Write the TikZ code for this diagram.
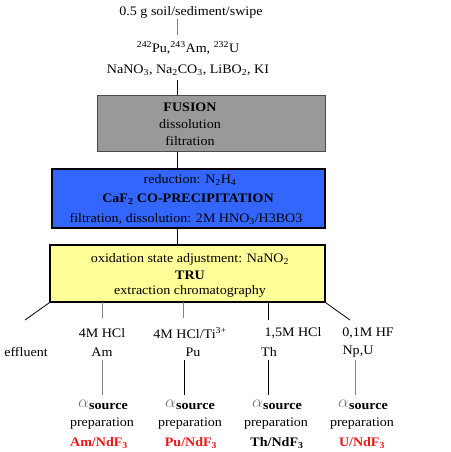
\documentclass[tikz,border=0pt]{standalone}
\usepackage{fontspec}
\setmainfont{Liberation Serif}[FakeStretch=1.08]
\definecolor{boxgray}{RGB}{153,153,153}
\definecolor{boxblue}{RGB}{51,102,255}
\definecolor{boxyellow}{RGB}{255,255,153}
\definecolor{lnred}{RGB}{240,20,20}
\begin{document}
\begin{tikzpicture}[x=1pt,y=-1pt,
  font=\fontsize{13}{15}\selectfont,
  txt/.style={inner sep=0pt},
  conn/.style={line width=0.8pt},
  gconn/.style={line width=0.8pt,draw=gray},
  stagebox/.style={draw=black,line width=1.6pt,inner sep=0pt},
  alab/.style={inner sep=0pt,font=\fontsize{13}{15}\selectfont\bfseries},
  rlab/.style={alab,text=lnred}]
\useasboundingbox (0,0) rectangle (450,452);
% boxes
\node[draw=black!70,line width=1pt,fill=boxgray,inner sep=0pt,minimum width=228pt,minimum height=56pt] (g) at (211,123) {};
\node[stagebox,fill=boxblue,minimum width=273pt,minimum height=59pt] (b) at (188.5,198.5) {};
\node[stagebox,fill=boxyellow,minimum width=275pt,minimum height=57pt] (y) at (187.5,273.5) {};
% top texts
\node[txt] (t0) at (191,12) {0.5 g soil/sediment/swipe};
\node[txt] (t1) at (188,48) {\textsuperscript{242}Pu,\textsuperscript{243}Am, \textsuperscript{232}U};
\node[txt] (t2) at (188,70) {NaNO\textsubscript{3}, Na\textsubscript{2}CO\textsubscript{3}, LiBO\textsubscript{2}, KI};
% box texts
\node[txt] (g1) at (190,107) {\textbf{FUSION}};
\node[txt] (g2) at (190,124) {dissolution};
\node[txt] (g3) at (190,141) {filtration};
\node[txt] (b1) at (190,180) {reduction: N\textsubscript{2}H\textsubscript{4}};
\node[txt] (b2) at (188,199) {\textbf{CaF\textsubscript{2} CO-PRECIPITATION}};
\node[txt] (b3) at (186,219) {filtration, dissolution: 2M HNO\textsubscript{3}/H3BO3};
\node[txt] (y1) at (190,259) {oxidation state adjustment: NaNO\textsubscript{2}};
\node[txt] (y2) at (190,275) {\textbf{TRU}};
\node[txt] (y3) at (190,291) {extraction chromatography};
% eluent labels
\node[txt] (a1) at (102,333) {4M HCl};
\node[txt] (p1) at (190,333) {4M HCl/Ti\textsuperscript{3+}};
\node[txt] (h1) at (293,333) {1,5M HCl};
\node[txt] (n1) at (368,333) {0,1M HF};
\node[txt] (e)  at (26,352) {effluent};
\node[txt] (a2) at (102,352) {Am};
\node[txt] (p2) at (193,352) {Pu};
\node[txt] (h2) at (269,352) {Th};
\node[txt] (n2) at (358,352) {Np,U};
% source preparation
\foreach \n/\x in {a/103,p/190,h/277,n/363}{
  \node[txt] (\n3) at (\x,405) {\raisebox{2pt}{\textcolor{black!55}{\fontsize{16}{16}\selectfont$\alpha$}}\textbf{source}};
}
\foreach \n/\x in {a/102,p/190,h/276,n/362}{
  \node[txt] (\n4) at (\x,424) {preparation};
}
\node[rlab] (a5) at (99,443) {Am/NdF\textsubscript{3}};
\node[rlab] (p5) at (191,443) {Pu/NdF\textsubscript{3}};
\node[alab] (h5) at (277,443) {Th/NdF\textsubscript{3}};
\node[rlab] (n5) at (362,443) {U/NdF\textsubscript{3}};
% connector coordinates
\coordinate (c0a) at (177,19);  \coordinate (c0b) at (177,35);
\coordinate (c1a) at (177,80);  \coordinate (c1b) at (g.north -| c1a);
\coordinate (c2a) at (g.south -| c1a); \coordinate (c2b) at (b.north -| c1a);
\coordinate (c3a) at (b.south -| c1a); \coordinate (c3b) at (y.north -| c1a);
\coordinate (effend) at (25,320);
\coordinate (amt) at (102,302); \coordinate (ame) at (102,318);
\coordinate (put) at (183,302); \coordinate (pue) at (183,318);
\coordinate (tht) at (268,302); \coordinate (the) at (268,320);
\coordinate (npend) at (350,320);
\coordinate (amla) at (102,360); \coordinate (amlb) at (102,395);
\coordinate (pula) at (184,360); \coordinate (pulb) at (184,395);
\coordinate (thla) at (268,360); \coordinate (thlb) at (268,395);
\coordinate (npla) at (355,360); \coordinate (nplb) at (355,395);
% connectors
\draw[gconn] (c0a) -- (c0b);
\draw[conn] (c1a) -- (c1b);
\draw[conn] (c2a) -- (c2b);
\draw[conn] (c3a) -- (c3b);
\draw[conn] (y.south west) -- (effend);
\draw[gconn] (amt) -- (ame);
\draw[gconn] (put) -- (pue);
\draw[conn] (tht) -- (the);
\draw[conn] (y.south east) -- (npend);
\draw[gconn] (amla) -- (amlb);
\draw[conn] (pula) -- (pulb);
\draw[conn] (thla) -- (thlb);
\draw[gconn] (npla) -- (nplb);
\end{tikzpicture}
\end{document}
